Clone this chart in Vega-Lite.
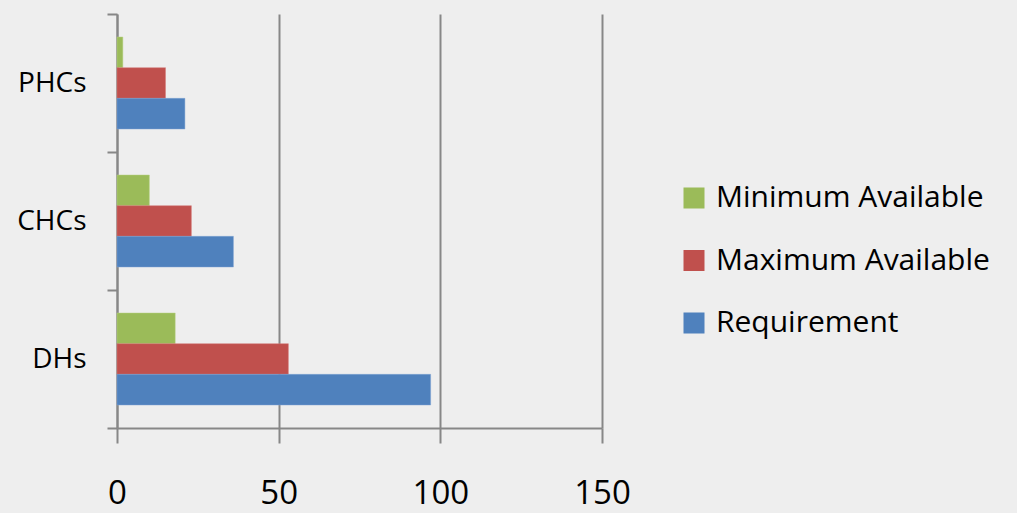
{
  "$schema": "https://vega.github.io/schema/vega-lite/v6.json",
  "width": 485,
  "height": 414,
  "autosize": {"type": "none"},
  "padding": {"left": 117, "top": 14, "right": 415, "bottom": 85},
  "background": "#eeeeee",
  "config": {
    "view": {"stroke": null},
    "font": "Open Sans"
  },
  "data": {
    "values": [
      {"facility": "PHCs", "series": "Minimum Available", "value": 1.8},
      {"facility": "PHCs", "series": "Maximum Available", "value": 15},
      {"facility": "PHCs", "series": "Requirement", "value": 21},
      {"facility": "CHCs", "series": "Minimum Available", "value": 10},
      {"facility": "CHCs", "series": "Maximum Available", "value": 23},
      {"facility": "CHCs", "series": "Requirement", "value": 36},
      {"facility": "DHs", "series": "Minimum Available", "value": 18},
      {"facility": "DHs", "series": "Maximum Available", "value": 53},
      {"facility": "DHs", "series": "Requirement", "value": 97}
    ]
  },
  "mark": {"type": "bar", "strokeWidth": 0.8, "strokeOpacity": 0.6},
  "encoding": {
    "y": {
      "field": "facility",
      "type": "nominal",
      "sort": ["PHCs", "CHCs", "DHs"],
      "title": null,
      "scale": {"paddingInner": 0, "paddingOuter": 0},
      "axis": {
        "domain": true,
        "domainColor": "#878787",
        "domainWidth": 2,
        "ticks": true,
        "tickBand": "extent",
        "tickColor": "#878787",
        "tickWidth": 2,
        "tickSize": 10,
        "labelFontSize": 28,
        "labelColor": "#000000",
        "labelPadding": 21
      }
    },
    "yOffset": {
      "field": "series",
      "type": "nominal",
      "sort": ["Minimum Available", "Maximum Available", "Requirement"],
      "scale": {"paddingInner": 0, "paddingOuter": 0.75}
    },
    "x": {
      "field": "value",
      "type": "quantitative",
      "title": null,
      "scale": {"domain": [0, 150], "nice": false},
      "axis": {
        "values": [0, 50, 100, 150],
        "grid": true,
        "gridColor": "#878787",
        "gridWidth": 2,
        "gridOpacity": 1,
        "domain": true,
        "domainColor": "#878787",
        "domainWidth": 2,
        "ticks": true,
        "tickColor": "#878787",
        "tickWidth": 2,
        "tickSize": 15,
        "labelFontSize": 33,
        "labelColor": "#000000",
        "labelPadding": 34,
        "labelFlush": false
      }
    },
    "color": {
      "field": "series",
      "type": "nominal",
      "title": null,
      "scale": {
        "domain": ["Minimum Available", "Maximum Available", "Requirement"],
        "range": ["#9bbb59", "#c0504d", "#4f81bd"]
      },
      "legend": {
        "orient": "none",
        "legendX": 562,
        "legendY": 169,
        "symbolType": "square",
        "symbolSize": 441,
        "symbolStrokeWidth": 0,
        "labelFontSize": 30,
        "labelColor": "#000000",
        "labelLimit": 400,
        "labelOffset": 7,
        "rowPadding": 32.5
      }
    },
    "stroke": {
      "field": "series",
      "type": "nominal",
      "scale": {
        "domain": ["Minimum Available", "Maximum Available", "Requirement"],
        "range": ["#b5d17f", "#d57b78", "#7ea3d3"]
      },
      "legend": null
    }
  }
}
